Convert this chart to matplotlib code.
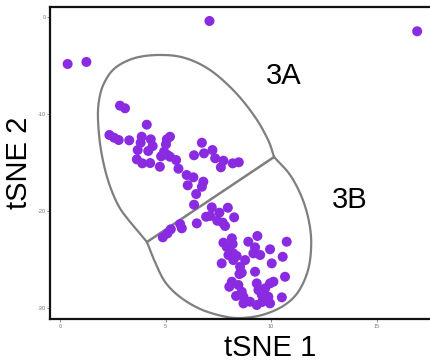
import numpy as np
import matplotlib
matplotlib.use("Agg")
import matplotlib.pyplot as plt

plt.rcParams['font.family'] = ['Liberation Sans', 'DejaVu Sans']
plt.rcParams['axes.unicode_minus'] = False

# tSNE coordinates of cells
tsne1 = [0.36, 1.25, 7.08, 16.92,
         2.84, 3.08, 4.11, 2.34, 2.56, 2.78, 3.28, 3.87, 4.30, 3.82, 4.39, 3.68, 4.18,
         3.64, 3.90, 4.27, 4.73, 5.21, 5.06, 5.02, 4.93, 4.79, 5.21, 5.09, 5.50, 5.61,
         6.00, 6.32, 6.05, 6.79, 6.72, 6.45, 6.35, 6.72, 6.82, 7.22, 7.35, 6.35, 7.74,
         7.62, 8.18, 8.47,
         7.19, 7.95, 7.55, 6.92, 7.11, 7.45, 7.71, 7.82, 8.25, 6.48, 5.77, 5.69, 5.25,
         5.09, 4.87,
         7.74, 8.14, 8.18, 8.92, 9.35, 9.24, 10.74, 9.95, 8.21, 7.98, 8.37, 9.16, 9.48,
         10.55, 7.66, 8.21, 8.77, 8.53, 10.03, 8.61, 9.24, 10.66, 8.14, 8.02, 8.45, 8.61,
         8.69, 9.32, 9.40, 9.72, 9.56, 9.95, 10.11, 9.00, 8.69, 9.32, 9.95, 10.51, 9.87,
         7.90, 8.34, 9.57, 8.50]
tsne2 = [-4.84, -4.63, -0.41, -1.47,
         -9.13, -9.40, -11.09, -12.15, -12.43, -12.67, -12.70, -12.33, -12.60, -12.95,
         -13.29, -13.70, -13.80,
         -14.66, -15.07, -15.04, -15.42, -12.33, -12.60, -13.11, -13.87, -14.35, -14.39,
         -14.21, -14.73, -15.62,
         -16.27, -16.51, -17.33, -16.96, -17.48, -18.23, -19.33, -12.95, -14.04, -13.70,
         -14.55, -14.24, -14.80,
         -15.48, -15.07, -14.96,
         -19.60, -19.64, -20.15, -20.57, -20.49, -20.98, -21.18, -21.52, -20.63, -21.25,
         -21.76, -21.32, -21.86,
         -22.28, -22.69,
         -23.24, -22.79, -23.38, -23.14, -22.55, -23.72, -23.14, -23.92, -24.34, -24.51,
         -24.61, -24.34, -24.51,
         -24.69, -25.37, -25.03, -25.03, -25.72, -25.37, -26.33, -26.23, -26.75, -27.26,
         -27.78, -27.60, -28.29,
         -28.81, -27.43, -28.12, -27.94, -28.63, -27.43, -27.26, -29.32, -29.49, -29.66,
         -29.49, -28.87, -28.81,
         -23.69, -28.73, -29.35, -26.47]

# hand-drawn region outlines (data coordinates)
region_3a_x = [4.12, 3.32, 2.75, 2.27, 1.94, 1.80, 1.85, 2.09, 2.61, 3.55, 4.74, 5.92,
               7.11, 8.29, 9.24, 9.86, 10.14]
region_3a_y = [-23.17, -21.11, -19.36, -16.79, -13.70, -10.61, -8.55, -6.80, -5.25,
               -4.22, -3.91, -4.22, -5.46, -7.72, -10.30, -12.67, -14.42]
region_3b_x = [4.12, 4.50, 4.98, 5.69, 6.64, 7.68, 8.53, 9.57, 10.57, 11.28, 11.75,
               11.90, 11.80, 11.47, 10.90, 10.14]
region_3b_y = [-23.17, -25.23, -27.29, -28.84, -30.07, -30.79, -31.00, -30.69, -29.76,
               -28.32, -26.06, -23.48, -21.11, -18.64, -16.27, -14.42]

x_ticks = [0, 5, 10, 15]
y_ticks = [0, -10, -20, -30]


def catmull_rom(xs, ys, n=20):
    p = np.column_stack([xs, ys]).astype(float)
    p = np.vstack([2 * p[0] - p[1], p, 2 * p[-1] - p[-2]])
    out = []
    for i in range(1, len(p) - 2):
        p0, p1, p2, p3 = p[i - 1], p[i], p[i + 1], p[i + 2]
        t = np.linspace(0, 1, n, endpoint=False)[:, None]
        seg = 0.5 * ((2 * p1) + (-p0 + p2) * t + (2 * p0 - 5 * p1 + 4 * p2 - p3) * t ** 2
                     + (-p0 + 3 * p1 - 3 * p2 + p3) * t ** 3)
        out.append(seg)
    out.append(p[-2][None, :])
    out = np.vstack(out)
    return out[:, 0], out[:, 1]


fig = plt.figure(figsize=(4.30, 3.64), dpi=100)
ax = fig.add_axes([0.117, 0.1236, 0.888, 0.858])

outline_color = '#7f7f7f'
for rx, ry in [(region_3a_x, region_3a_y), (region_3b_x, region_3b_y)]:
    sx, sy = catmull_rom(rx, ry)
    ax.plot(sx, sy, color=outline_color, lw=1.6, solid_capstyle='round', zorder=1)
# dividing line between regions
ax.plot([region_3a_x[0], region_3a_x[-1]], [region_3a_y[0], region_3a_y[-1]],
        color=outline_color, lw=1.8, zorder=1)

ax.scatter(tsne1, tsne2, s=52, color='#8a2be2', edgecolors='none', zorder=3)

ax.text(10.62, -6.08, '3A', fontsize=21, ha='center', va='center', color='black')
ax.text(13.74, -18.85, '3B', fontsize=21, ha='center', va='center', color='black')

ax.set_xlim(-0.46, 17.63)
ax.set_ylim(-31.1, 1.06)
ax.set_xticks(x_ticks)
ax.set_yticks(y_ticks)
ax.set_xticklabels([str(t) for t in x_ticks])
ax.set_yticklabels([str(t) for t in y_ticks])
ax.tick_params(labelsize=4, colors='#777777', length=2, width=0.6, pad=1.5)

for side in ['left', 'top', 'bottom']:
    ax.spines[side].set_linewidth(1.6)
    ax.spines[side].set_color('#111111')
ax.spines['right'].set_visible(False)

ax.set_xlabel('tSNE 1', fontsize=21, labelpad=4)
ax.xaxis.label.set_x(0.575)
ax.set_ylabel('tSNE 2', fontsize=21, labelpad=3)

fig.savefig('out.png', dpi=100)
